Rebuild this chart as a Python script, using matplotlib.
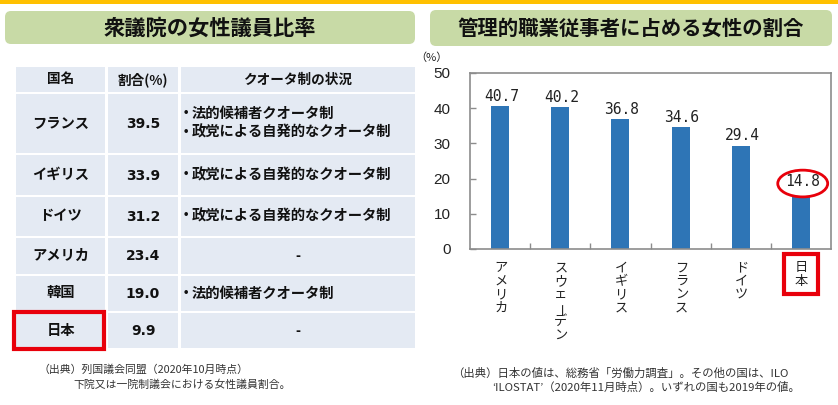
import matplotlib
matplotlib.use("Agg")
import matplotlib.pyplot as plt
from matplotlib.patches import Rectangle, FancyBboxPatch, Ellipse

plt.rcParams['font.family'] = ['Noto Sans CJK JP', 'DejaVu Sans']

# ---------------- data ----------------
left_title = "衆議院の女性議員比率"
right_title = "管理的職業従事者に占める女性の割合"
table_header = ["国名", "割合(%)", "クオータ制の状況"]
table_countries = ["フランス", "イギリス", "ドイツ", "アメリカ", "韓国", "日本"]
table_rates = [39.5, 33.9, 31.2, 23.4, 19.0, 9.9]
table_quota = [
    ["法的候補者クオータ制", "政党による自発的なクオータ制"],
    ["政党による自発的なクオータ制"],
    ["政党による自発的なクオータ制"],
    [],
    ["法的候補者クオータ制"],
    [],
]
left_source = ["（出典）列国議会同盟（2020年10月時点）",
               "下院又は一院制議会における女性議員割合。"]

chart_countries = ["アメリカ", "スウェーデン", "イギリス", "フランス", "ドイツ", "日本"]
chart_values = [40.7, 40.2, 36.8, 34.6, 29.4, 14.8]
y_ticks = [0, 10, 20, 30, 40, 50]
right_source = ["（出典）日本の値は、総務省「労働力調査」。その他の国は、ILO",
                "‘ILOSTAT’（2020年11月時点）。いずれの国も2019年の値。"]

# ---------------- layout ----------------
W, H = 838, 405
fig = plt.figure(figsize=(W / 100, H / 100), dpi=100)
ax0 = fig.add_axes([0, 0, 1, 1])
ax0.set_xlim(0, W)
ax0.set_ylim(H, 0)
ax0.axis('off')

green = "#C8DAA6"
cell = "#E4EAF3"
red = "#E8000B"
blue = "#2E75B6"
ink = "#111111"

# top yellow bar
ax0.add_patch(Rectangle((0, 0), W, 4, fc="#FFC000", ec='none'))

# title boxes
ax0.add_patch(FancyBboxPatch((8, 14), 404, 27, boxstyle="round,pad=3,rounding_size=6",
                             fc=green, ec='none'))
ax0.add_patch(FancyBboxPatch((433, 13), 396, 30, boxstyle="round,pad=3,rounding_size=6",
                             fc=green, ec='none'))
ax0.text(210, 28, left_title, fontsize=15.3, fontweight='bold', ha='center', va='center',
         color=ink)
ax0.text(631, 28, right_title, fontsize=14.7, fontweight='bold', ha='center', va='center',
         color=ink)

# table
cols = [(16, 105), (108, 178), (181, 415)]
rows = [(67, 92), (94, 153), (155, 195), (197, 236), (238, 274), (276, 311), (313, 348)]
for (y0, y1) in rows:
    for (x0, x1) in cols:
        ax0.add_patch(Rectangle((x0, y0), x1 - x0, y1 - y0, fc=cell, ec='none'))

hy = (rows[0][0] + rows[0][1]) / 2
for (x0, x1), txt in zip(cols, table_header):
    ax0.text((x0 + x1) / 2, hy, txt, fontsize=9.8, fontweight='bold', ha='center',
             va='center', color=ink)

for i, (name, rate, quota) in enumerate(zip(table_countries, table_rates, table_quota)):
    y0, y1 = rows[i + 1]
    yc = (y0 + y1) / 2
    ax0.text((cols[0][0] + cols[0][1]) / 2, yc, name, fontsize=10.3, fontweight='bold',
             ha='center', va='center', color=ink)
    ax0.text((cols[1][0] + cols[1][1]) / 2, yc + 0.5, f"{rate:.1f}", fontsize=10,
             fontweight='bold', ha='center', va='center', color=ink,
             family='DejaVu Sans')
    if quota:
        n = len(quota)
        for k, q in enumerate(quota):
            yy = yc + (k - (n - 1) / 2) * 18.5
            ax0.text(179, yy, "・", fontsize=10.3, fontweight='bold', ha='left',
                     va='center', color=ink)
            ax0.text(192, yy, q, fontsize=10.3, fontweight='bold', ha='left',
                     va='center', color=ink)
    else:
        ax0.text((cols[2][0] + cols[2][1]) / 2, yc, "-", fontsize=10, fontweight='bold',
                 ha='center', va='center', color=ink)

# red box around 日本 in table
ax0.add_patch(Rectangle((14, 311.5), 90, 37.5, fc='none', ec=red, lw=3))

# left sources
ax0.text(38, 370, left_source[0], fontsize=7.8, ha='left', va='center', color='#333333')
ax0.text(73, 385, left_source[1], fontsize=7.8, ha='left', va='center', color='#333333')

# ---------------- bar chart ----------------
ax = fig.add_axes([470 / W, (H - 249) / H, 361 / W, 176 / H])
x = list(range(len(chart_values)))
ax.bar(x, chart_values, width=0.3, color=blue, zorder=2)
ax.set_xlim(-0.5, len(x) - 0.5)
ax.set_ylim(0, 50)
for s in ax.spines.values():
    s.set_color('#8C8C8C')
    s.set_linewidth(1.2)
ax.set_yticks(y_ticks)
ax.set_yticklabels([str(v) for v in y_ticks], fontfamily='Liberation Sans', fontsize=11,
                   color='#222222')
ax.tick_params(axis='y', direction='in', length=4, width=1, color='#8C8C8C', pad=14)
ax.set_xticks([i + 0.5 for i in x[:-1]])
ax.set_xticklabels([])
ax.tick_params(axis='x', direction='in', length=4, width=1, color='#8C8C8C')

jp = len(x) - 1
for i, v in zip(x, chart_values):
    dy = 5.5 if i == jp else 1.5
    ax.annotate(f"{v:.1f}", xy=(i, v), xytext=(1, dy), textcoords='offset points',
                ha='center', va='bottom', fontfamily='DejaVu Sans Mono', fontsize=10.5,
                color='#222222')

# vertical category labels
step = 9.7
for i, name in zip(x, chart_countries):
    for k, ch in enumerate(name):
        if ch == "ー":
            rot, dx = 90, 2.5
        else:
            rot, dx = 0, 0.5
        ax.annotate(ch, xy=(i, 0), xycoords=('data', 'axes fraction'),
                    xytext=(dx, -13.5 - k * step), textcoords='offset points',
                    ha='center', va='center', fontsize=9.5, rotation=rot, color='#222222')

# red box around 日本 label
ax0.add_patch(Rectangle((784, 254), 34, 40, fc='none', ec=red, lw=3))

# red ellipse around 14.8 label
ax.add_patch(Ellipse((jp + 0.03, chart_values[jp] + 3.8), 0.83, 7.6, fc='none', ec=red,
                     lw=2, clip_on=False, zorder=3))

# (%) label
ax0.text(431, 58, "（%）", fontsize=8, ha='center', va='center', color='#222222')

# right sources
ax0.text(452, 373, right_source[0], fontsize=8.2, ha='left', va='center', color='#333333')
ax0.text(492, 387, right_source[1], fontsize=8.2, ha='left', va='center', color='#333333')

fig.savefig("out.png", dpi=100)
